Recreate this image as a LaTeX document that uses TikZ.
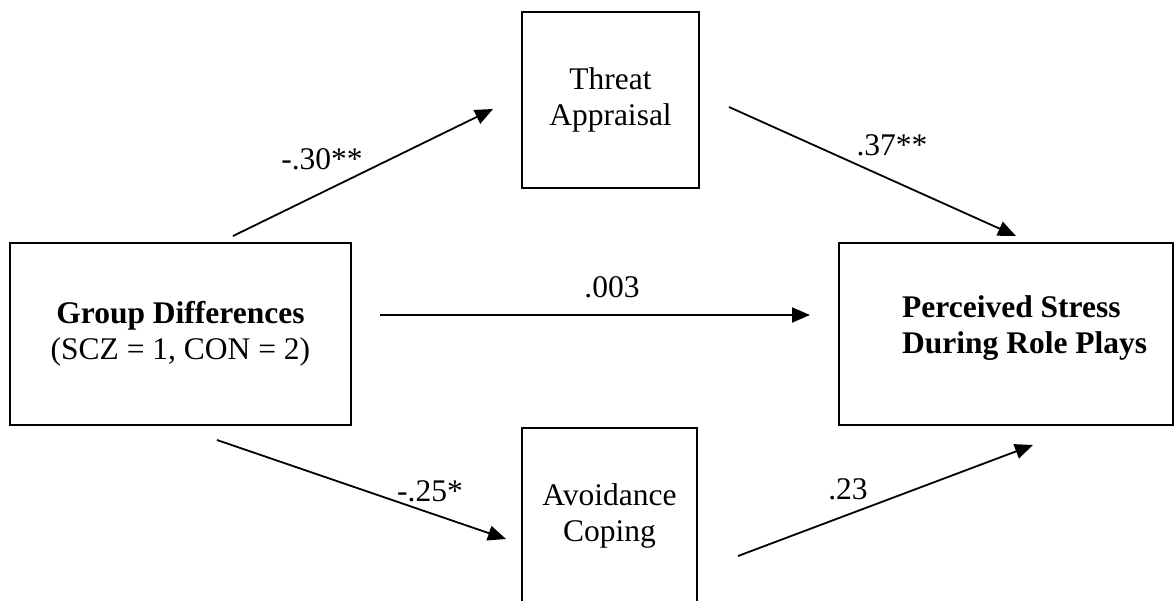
\documentclass[tikz,border=0pt]{standalone}
\usepackage{fontspec}
\setmainfont{Liberation Serif}
\usetikzlibrary{arrows.meta}
\begin{document}
\begin{tikzpicture}[x=1pt,y=-1pt,
  txt/.style={font=\fontsize{31.5}{36}\selectfont, inner sep=0pt},
  box/.style={draw, line width=1.8pt, inner sep=0pt, align=center,
    font=\fontsize{31.5}{36}\selectfont},
  path/.style={line width=1.8pt, -{Triangle[length=18pt,width=15pt]}},
  coef/.style={txt}]
\useasboundingbox (0,0) rectangle (1175,600);

% variables
\node[box, minimum width=341pt, minimum height=182pt] (group) at (180.5,334)
  {\textbf{Group Differences}\\(SCZ = 1, CON = 2)};
\node[box, minimum width=177pt, minimum height=176pt] (threat) at (610.5,100)
  {Threat\\Appraisal};
\node[box, minimum width=175pt, minimum height=176pt] (avoid) at (609.5,516)
  {Avoidance\\Coping};
\node[box, minimum width=334pt, minimum height=182pt] (stress) at (1006,334) {};
\node[txt, align=left, anchor=west] (stresslabel) at (902,328)
  {\textbf{Perceived Stress}\\\textbf{During Role Plays}};

% path end points
\coordinate (p1s) at (233,236);  \coordinate (p1e) at (493,109);
\coordinate (p2s) at (729,107);  \coordinate (p2e) at (1016,236);
\coordinate (p3s) at (380,315);  \coordinate (p3e) at (810,315);
\coordinate (p4s) at (217,440);  \coordinate (p4e) at (506,539);
\coordinate (p5s) at (738,556);  \coordinate (p5e) at (1033,445);

% paths
\draw[path] (p1s) -- (p1e);
\draw[path] (p2s) -- (p2e);
\draw[path] (p3s) -- (p3e);
\draw[path] (p4s) -- (p4e);
\draw[path] (p5s) -- (p5e);

% coefficients
\node[coef] (c1) at (322,159) {-.30**};
\node[coef] (c2) at (892,145) {.37**};
\node[coef] (c3) at (612,287) {.003};
\node[coef] (c4) at (430,491) {-.25*};
\node[coef] (c5) at (848,489) {.23};
\end{tikzpicture}
\end{document}
